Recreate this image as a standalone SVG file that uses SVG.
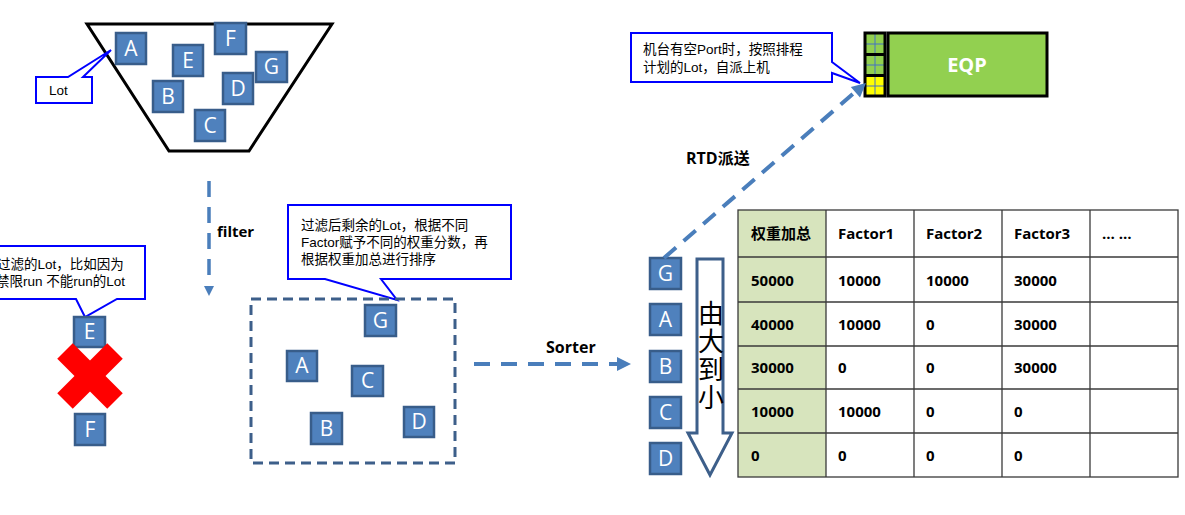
<svg xmlns="http://www.w3.org/2000/svg" width="1185" height="515" viewBox="0 0 1185 515">
<style>
.lot rect{fill:#4f81bd;stroke:#385d8a;stroke-width:2.5}
.lot text{fill:#fff;font-family:"Open Sans","Noto Sans",sans-serif;font-size:21px;text-anchor:middle}
.call{fill:#fff;stroke:#0000ff;stroke-width:2;stroke-linejoin:miter}
.ct{font-family:"Liberation Sans","Noto Sans CJK SC",sans-serif;font-size:13.5px;fill:#000}
.lbl{font-family:"Open Sans","Noto Sans CJK SC",sans-serif;font-weight:bold;fill:#000}
.dash{stroke:#4a7ebb;fill:none}
.ah{fill:#4a7ebb}
.tb{font-family:"Open Sans","Noto Sans CJK SC",sans-serif;font-weight:bold;font-size:15px;fill:#000}
.grid{stroke:#3a3a3a;stroke-width:1.3;fill:none}
</style>

<g id="funnel">
<polygon points="87,24 332,24 249,151 169,151" fill="#fff" stroke="#000" stroke-width="3"/>
</g>

<g id="funnel-lots">
<g class="lot" id="fA"><rect x="116" y="33" width="30" height="31"/><text x="131" y="56">A</text></g>
<g class="lot" id="fE"><rect x="173" y="45" width="30" height="31"/><text x="188" y="68">E</text></g>
<g class="lot" id="fF"><rect x="215" y="23" width="31" height="31"/><text x="230.5" y="46">F</text></g>
<g class="lot" id="fG"><rect x="256" y="52" width="31" height="30"/><text x="271.5" y="74">G</text></g>
<g class="lot" id="fD"><rect x="223" y="73" width="30" height="31"/><text x="238" y="96">D</text></g>
<g class="lot" id="fB"><rect x="153" y="81" width="30" height="31"/><text x="168" y="104">B</text></g>
<g class="lot" id="fC"><rect x="195" y="110" width="30" height="31"/><text x="210" y="133">C</text></g>
</g>

<g id="lot-callout">
<path class="call" d="M36,77 H68 L111,50 L83,77 H92 V103 H36 Z"/>
<text class="ct" x="49" y="95">Lot</text>
</g>

<g id="filtered-callout">
<path class="call" d="M-5,246 H145 V299 H117 L85,317 L76,299 H-5 Z"/>
<text class="ct" x="-3" y="269">过滤的Lot，比如因为</text>
<text class="ct" x="-4" y="286">禁限run 不能run的Lot</text>
</g>

<g id="filtered-lots">
<g class="lot" id="xE"><rect x="74" y="317" width="31" height="30"/><text x="89.5" y="339">E</text></g>
<g id="redX">
<line x1="65" y1="351" x2="115" y2="401" stroke="#ff0000" stroke-width="22"/>
<line x1="115" y1="351" x2="65" y2="401" stroke="#ff0000" stroke-width="22"/>
</g>
<g class="lot" id="xF"><rect x="75" y="414" width="30" height="31"/><text x="90" y="437">F</text></g>
</g>

<g id="sorter-callout">
<path class="call" d="M288,205 H511 V279 H381 L397,300 L325,279 H288 Z"/>
<text class="ct" x="301" y="230">过滤后剩余的Lot，根据不同</text>
<text class="ct" x="301" y="247">Factor赋予不同的权重分数，再</text>
<text class="ct" x="301" y="264">根据权重加总进行排序</text>
</g>

<g id="pool">
<rect x="251" y="299" width="204" height="164" fill="none" stroke="#3d5f8a" stroke-width="3" stroke-dasharray="10 6"/>
<g class="lot" id="pG"><rect x="365" y="305" width="31" height="31"/><text x="380.5" y="328">G</text></g>
<g class="lot" id="pA"><rect x="287" y="351" width="30" height="30"/><text x="302" y="373">A</text></g>
<g class="lot" id="pC"><rect x="352" y="366" width="31" height="30"/><text x="367.5" y="388">C</text></g>
<g class="lot" id="pB"><rect x="311" y="413" width="31" height="31"/><text x="326.5" y="436">B</text></g>
<g class="lot" id="pD"><rect x="404" y="407" width="30" height="30"/><text x="419" y="429">D</text></g>
</g>

<g id="sorted-lots">
<g class="lot" id="sG"><rect x="650" y="258" width="31" height="31"/><text x="665.5" y="281">G</text></g>
<g class="lot" id="sA"><rect x="650" y="304" width="31" height="31"/><text x="665.5" y="327">A</text></g>
<g class="lot" id="sB"><rect x="650" y="351" width="31" height="31"/><text x="665.5" y="374">B</text></g>
<g class="lot" id="sC"><rect x="650" y="397" width="31" height="31"/><text x="665.5" y="420">C</text></g>
<g class="lot" id="sD"><rect x="650" y="443" width="31" height="31"/><text x="665.5" y="466">D</text></g>
</g>

<g id="order-arrow">
<path d="M697,259 H723 V433 H732 L710,475 L688,433 H697 Z" fill="#fff" stroke="#3d5f8a" stroke-width="3" stroke-linejoin="miter"/>
<text x="711" y="300" font-family="Noto Sans CJK SC,sans-serif" font-size="26" fill="#000" writing-mode="vertical-rl" letter-spacing="2">由大到小</text>
</g>

<g id="eqp-callout">
<path class="call" d="M631,33 H832 V62 L860,83 L832,73 V82 H631 Z"/>
<text class="ct" x="643" y="54">机台有空Port时，按照排程</text>
<text class="ct" x="643" y="72">计划的Lot，自派上机</text>
</g>

<g id="ports">
<rect x="866" y="34" width="18" height="20" fill="#92d050"/>
<rect x="866" y="55" width="18" height="20" fill="#92d050"/>
<rect x="866" y="76" width="18" height="19" fill="#ffff00"/>
<g stroke="#4472c4" stroke-width="1">
<line x1="875" y1="34" x2="875" y2="95"/>
<line x1="866" y1="44" x2="884" y2="44"/>
<line x1="866" y1="65" x2="884" y2="65"/>
<line x1="866" y1="86" x2="884" y2="86"/>
</g>
<rect x="865" y="33" width="20" height="63" fill="none" stroke="#000" stroke-width="3"/>
<line x1="865" y1="54.5" x2="885" y2="54.5" stroke="#000" stroke-width="3"/>
<line x1="865" y1="75.5" x2="885" y2="75.5" stroke="#000" stroke-width="3"/>
</g>

<g id="eqp">
<rect x="888" y="33" width="159" height="63" fill="#92d050" stroke="#000" stroke-width="3"/>
<text x="967" y="72" font-family="Open Sans,Noto Sans,sans-serif" font-weight="bold" font-size="20" fill="#fff" text-anchor="middle">EQP</text>
</g>

<g id="connectors">
<line class="dash" x1="209" y1="181" x2="209" y2="283" stroke-width="3.5" stroke-dasharray="16 10"/>
<polygon class="ah" points="204,286 214,286 209,296"/>
<line class="dash" x1="474" y1="364" x2="617" y2="364" stroke-width="4" stroke-dasharray="16 11"/>
<polygon class="ah" points="617,357 631,364 617,371"/>
<line class="dash" x1="664" y1="258" x2="854" y2="93" stroke-width="4" stroke-dasharray="16 10"/>
<polygon class="ah" points="866,83 860,97.5 850.8,86.9"/>
</g>

<g id="edge-labels">
<text class="lbl" x="217" y="237" font-size="15">filter</text>
<text class="lbl" x="546" y="353" font-size="16">Sorter</text>
<text class="lbl" x="686" y="164" font-size="16">RTD派送</text>
</g>

<g id="table">
<rect x="738" y="210" width="88" height="267" fill="#d7e4bd"/>
<rect x="738" y="210" width="440" height="267" class="grid"/>
<g class="grid">
<line x1="826" y1="210" x2="826" y2="477"/>
<line x1="914" y1="210" x2="914" y2="477"/>
<line x1="1002" y1="210" x2="1002" y2="477"/>
<line x1="1090" y1="210" x2="1090" y2="477"/>
<line x1="738" y1="257" x2="1178" y2="257"/>
<line x1="738" y1="302" x2="1178" y2="302"/>
<line x1="738" y1="346" x2="1178" y2="346"/>
<line x1="738" y1="389" x2="1178" y2="389"/>
<line x1="738" y1="433" x2="1178" y2="433"/>
</g>
<g class="tb">
<text x="751" y="239">权重加总</text>
<text x="838" y="239">Factor1</text>
<text x="926" y="239">Factor2</text>
<text x="1014" y="239">Factor3</text>
<text x="1102" y="239">… …</text>
<text x="751" y="286">50000</text><text x="838" y="286">10000</text><text x="926" y="286">10000</text><text x="1014" y="286">30000</text>
<text x="751" y="330">40000</text><text x="838" y="330">10000</text><text x="926" y="330">0</text><text x="1014" y="330">30000</text>
<text x="751" y="373">30000</text><text x="838" y="373">0</text><text x="926" y="373">0</text><text x="1014" y="373">30000</text>
<text x="751" y="417">10000</text><text x="838" y="417">10000</text><text x="926" y="417">0</text><text x="1014" y="417">0</text>
<text x="751" y="461">0</text><text x="838" y="461">0</text><text x="926" y="461">0</text><text x="1014" y="461">0</text>
</g>
</g>
</svg>
